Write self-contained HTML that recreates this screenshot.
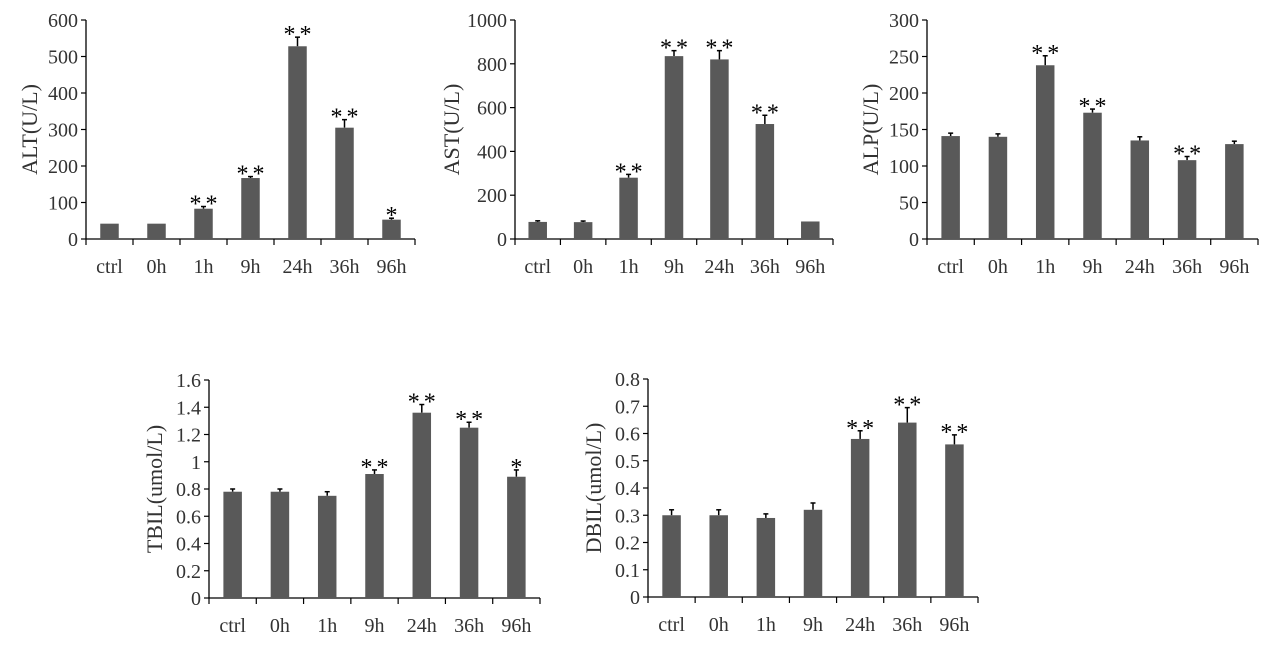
<!DOCTYPE html>
<html><head><meta charset="utf-8">
<style>
html,body{margin:0;padding:0;background:#fff;}
svg{display:block;font-family:"Liberation Serif",serif;}
</style></head>
<body>
<svg id="fig" width="1273" height="645" viewBox="0 0 1273 645"></svg>
<script>
const categories = ["ctrl","0h","1h","9h","24h","36h","96h"];
const altValues = [42,42,83,167,528,305,53];
const altErrors = [0,0,6,4,25,22,4];
const altStars = ["","","**","**","**","**","*"];
const astValues = [78,77,280,835,820,525,80];
const astErrors = [5,5,15,25,40,40,0];
const astStars = ["","","**","**","**","**",""];
const alpValues = [141,140,238,173,135,108,130];
const alpErrors = [4,4,13,5,5,5,4];
const alpStars = ["","","**","**","","**",""];
const tbilValues = [0.78,0.78,0.75,0.91,1.36,1.25,0.89];
const tbilErrors = [0.02,0.02,0.03,0.03,0.06,0.04,0.05];
const tbilStars = ["","","","**","**","**","*"];
const dbilValues = [0.30,0.30,0.29,0.32,0.58,0.64,0.56];
const dbilErrors = [0.02,0.02,0.015,0.025,0.03,0.055,0.035];
const dbilStars = ["","","","","**","**","**"];
const altTicks = ["0","100","200","300","400","500","600"];
const astTicks = ["0","200","400","600","800","1000"];
const alpTicks = ["0","50","100","150","200","250","300"];
const tbilTicks = ["0","0.2","0.4","0.6","0.8","1","1.2","1.4","1.6"];
const dbilTicks = ["0","0.1","0.2","0.3","0.4","0.5","0.6","0.7","0.8"];

const NS="http://www.w3.org/2000/svg";
const svg=document.getElementById('fig');
function mk(tag,attrs,parent){const e=document.createElementNS(NS,tag);for(const k in attrs)e.setAttribute(k,attrs[k]);(parent||svg).appendChild(e);return e;}

function chart(key,title,x0,x1,y0,y1,vals,errs,stars,ticks,titleX){
  const g=mk('g',{});
  
  
  const maxV=parseFloat(ticks[ticks.length-1]);
  const ys=v=>y0-(v/maxV)*(y0-y1);
  const cw=(x1-x0)/categories.length;
  const xs=i=>x0+cw*(i+0.5);
  const ya=mk('line',{x1:x0,y1:y1,x2:x0,y2:y0,stroke:'#000','stroke-width':1.3},g);
  
  
  ticks.forEach(t=>{
    const y=ys(parseFloat(t));
    mk('line',{x1:x0-5,y1:y,x2:x0,y2:y,stroke:'#000','stroke-width':1.2},g);
    const tx=mk('text',{x:x0-8,y:y+7,'text-anchor':'end','font-size':20,fill:'#333'},g);
    tx.textContent=t;
    
    
  });
  const xa=mk('line',{x1:x0,y1:y0,x2:x1,y2:y0,stroke:'#000','stroke-width':1.3},g);
  
  
  for(let i=0;i<=categories.length;i++){
    const x=x0+cw*i;
    mk('line',{x1:x,y1:y0,x2:x,y2:y0+6,stroke:'#000','stroke-width':1.2},g);
  }
  categories.forEach((c,i)=>{
    const tx=mk('text',{x:xs(i),y:y0+34,'text-anchor':'middle','font-size':20,fill:'#333'},g);
    tx.textContent=c;
    
    
    const bw=18.5;
    const top=ys(vals[i]);
    if(errs[i]>0){
      const et=ys(vals[i]+errs[i]);
      mk('line',{x1:xs(i),y1:top,x2:xs(i),y2:et,stroke:'#000','stroke-width':1.5},g);
      mk('line',{x1:xs(i)-2.5,y1:et,x2:xs(i)+2.5,y2:et,stroke:'#000','stroke-width':1.5},g);
    }
    const b=mk('rect',{x:xs(i)-bw/2,y:top,width:bw,height:y0-top,fill:'#595959'},g);
    
    
    if(stars[i]){
      const st=mk('text',{x:xs(i)+2,y:ys(vals[i]+errs[i])+5,'text-anchor':'middle','font-size':24,fill:'#000','letter-spacing':4},g);
      st.textContent=stars[i];
      
      
    }
  });
  const cy=(y0+y1)/2;
  const t=mk('text',{x:titleX,y:cy,'text-anchor':'middle','font-size':22,fill:'#333',transform:`rotate(-90 ${titleX} ${cy})`},g);
  t.textContent=title;
  
  
}
chart('alt','ALT(U/L)',86,415,239,20,altValues,altErrors,altStars,altTicks,37);
chart('ast','AST(U/L)',515,833,239,20,astValues,astErrors,astStars,astTicks,459);
chart('alp','ALP(U/L)',927,1258,239,20,alpValues,alpErrors,alpStars,alpTicks,878);
chart('tbil','TBIL(umol/L)',209,540,598,380,tbilValues,tbilErrors,tbilStars,tbilTicks,162);
chart('dbil','DBIL(umol/L)',648,978,597,379,dbilValues,dbilErrors,dbilStars,dbilTicks,601);
</script>
</body></html>
